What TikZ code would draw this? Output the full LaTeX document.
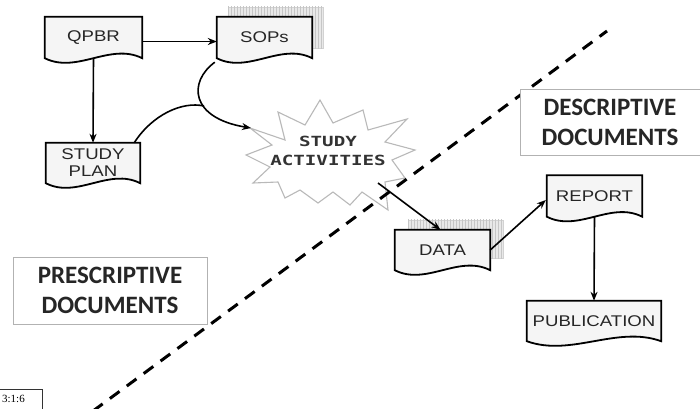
\documentclass[tikz,border=0pt]{standalone}
\usepackage{fontspec}
\setmainfont{Liberation Sans}
\newfontfamily\docfont[FakeStretch=1.2]{Liberation Sans}
\newfontfamily\actfont[FakeStretch=1.37]{DejaVu Sans Mono}
\newfontfamily\bigfont{Carlito}
\newfontfamily\serfont{Liberation Serif}
\usetikzlibrary{calc,arrows.meta,backgrounds,patterns}
\newcommand\docoutline[1]{%
  \draw[docline] (#1.south west) -- (#1.north west) -- (#1.north east) -- (#1.south east)
    .. controls ($(#1.south east)!0.33!(#1.south west)+(0,-16)$) and ($(#1.south east)!0.67!(#1.south west)+(0,16)$) .. (#1.south west) -- cycle;}
\begin{document}
\begin{tikzpicture}[x=1pt,y=-1pt,
  docnode/.style={rectangle, draw=none, inner sep=0pt, text=black!85,
    font=\docfont\fontsize{15.5}{18}\selectfont, align=center},
  docline/.style={draw=black, line width=1.8pt, fill=gray!8},
  shadowbox/.style={fill=gray!18, draw=gray!35, line width=0.4pt},
  shadowhatch/.style={pattern=vertical lines, pattern color=gray!45},
  conn/.style={line width=1.6pt, -{Stealth[length=9pt,width=7pt]}},
  divider/.style={line width=3pt, dash pattern=on 12pt off 9pt},
  labelbox/.style={draw=gray!60, line width=0.8pt, fill=white, inner sep=0pt,
    font=\bigfont\bfseries\fontsize{25}{30}\selectfont, align=center, text=black!85},
  burst/.style={draw=gray!55, line width=1.1pt, fill=white, line join=miter},
  acttext/.style={font=\actfont\bfseries\fontsize{14}{19}\selectfont, align=center, text=black!80}
]
\useasboundingbox (0,0) rectangle (700,408);

% document nodes
\node[docnode, minimum width=97pt, minimum height=41pt] (qpbr) at (93.5,37.5) {QPBR};
\node[docnode, minimum width=95pt, minimum height=41pt] (sops) at (264.5,37.5) {SOPs};
\node[docnode, minimum width=94pt, minimum height=40pt] (plan) at (93,163) {STUDY\\[-1pt]PLAN};
\node[docnode, minimum width=95pt, minimum height=40pt] (data) at (442.5,250) {DATA};
\node[docnode, minimum width=95pt, minimum height=41pt] (report) at (594.5,196) {REPORT};
\node[docnode, minimum width=134pt, minimum height=40pt] (pub) at (594,321) {PUBLICATION};

\begin{scope}[on background layer]
  \filldraw[shadowbox] ($(sops.north west)+(11,-10)$) rectangle ($(sops.south east)+(11,-10)$);
  \fill[shadowhatch] ($(sops.north west)+(11,-10)$) rectangle ($(sops.south east)+(11,-10)$);
  \filldraw[shadowbox] ($(data.north west)+(13,-10)$) rectangle ($(data.south east)+(13,-12)$);
  \fill[shadowhatch] ($(data.north west)+(13,-10)$) rectangle ($(data.south east)+(13,-12)$);
  \docoutline{qpbr}
  \docoutline{sops}
  \docoutline{plan}
  \docoutline{data}
  \docoutline{report}
  \docoutline{pub}
\end{scope}

% study activities starburst
\draw[burst] (250,128) -- (285,140) -- (278,112) -- (305,125) -- (320,100) -- (333,123)
  -- (363,110) -- (368,130) -- (407,119) -- (385,142) -- (415,150) -- (392,160)
  -- (405,178) -- (385,182) -- (388,210) -- (362,192) -- (350,205) -- (333,192)
  -- (318,203) -- (300,190) -- (285,198) -- (278,182) -- (253,183) -- (270,167)
  -- (246,155) -- (272,145) -- cycle;
\node[acttext] (act) at (328,151) {STUDY\\ACTIVITIES};

% connector points
\coordinate (actin) at (251,128);
\coordinate (merge) at (204,106);
\coordinate (actout) at (378,183);

% connectors
\draw[conn, line width=1.3pt] ($(qpbr.east)+(0,4)$) -- ($(sops.west)+(0,4)$);
\draw[conn] (qpbr.south) -- (plan.north);
\draw[conn] ($(sops.south west)+(-2,4)$) .. controls (188,82) and (190,118) .. (actin);
\draw[line width=1.6pt] ($(plan.north east)+(-6,0)$) .. controls (152,115) and (182,101) .. (merge);
\draw[conn] (actout) -- ($(data.north)+(-2,0)$);
\draw[conn] (data.east) -- ($(report.west)+(-1,4)$);
\draw[conn] (report.south) -- (pub.north);

% dividing line
\coordinate (divA) at (93,411);
\coordinate (divB) at (607,31);
\draw[divider] (divA) -- (divB);

% category labels
\node[labelbox, minimum width=180pt, minimum height=66pt] (desc) at (610,122) {DESCRIPTIVE\\DOCUMENTS};
\node[labelbox, minimum width=194pt, minimum height=67pt] (presc) at (110,290.5) {PRESCRIPTIVE\\DOCUMENTS};

% reference box
\node[draw=black!80, line width=0.6pt, anchor=north east, minimum width=52pt, minimum height=24pt, inner sep=0pt] (refbox) at (43,389) {};
\node[font=\serfont\fontsize{11}{13}\selectfont, anchor=east, inner sep=0pt] (reftext) at (25,399) {3:1:6};
\end{tikzpicture}
\end{document}
